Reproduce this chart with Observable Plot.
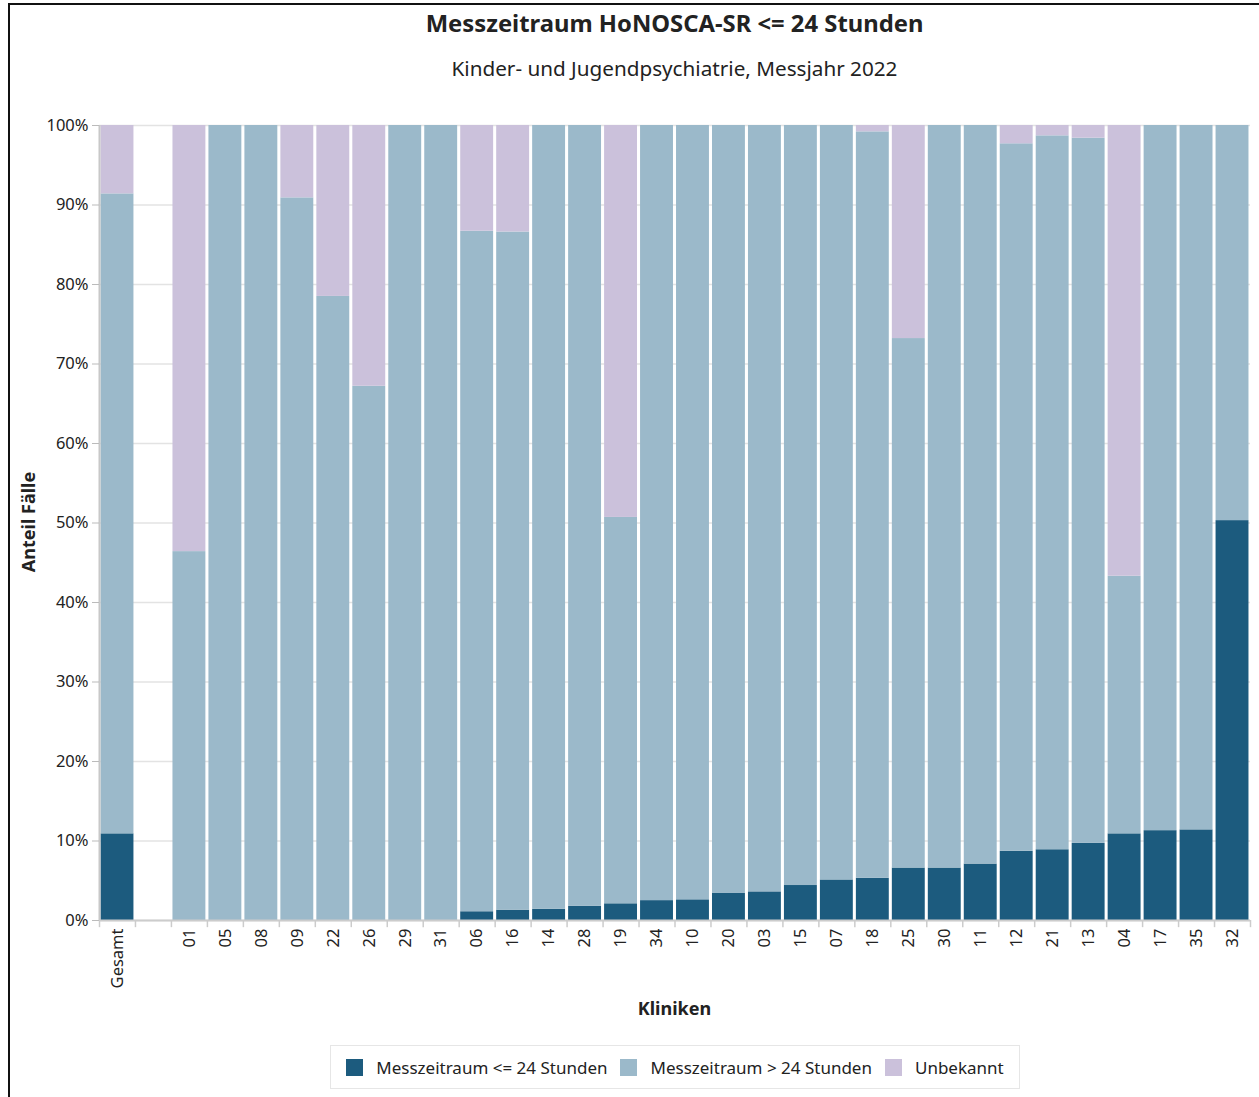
<!DOCTYPE html>
<html>
<head>
<meta charset="utf-8">
<script src="https://cdn.jsdelivr.net/npm/d3@7"></script>
<script src="https://cdn.jsdelivr.net/npm/@observablehq/plot@0.6"></script>
<style>
  html, body { margin: 0; padding: 0; background: #fff; }
  body { width: 1259px; height: 1097px; position: relative; overflow: hidden; font-family: "Noto Sans", "Open Sans", sans-serif; color: #222; }
  #frame { position: absolute; left: 8px; top: 3px; width: 1260px; height: 1100px; border-left: 2px solid #111; border-top: 2px solid #111; box-sizing: border-box; z-index: 5; pointer-events: none; }
  #chart { position: absolute; left: 0; top: 0; }
  .title { position: absolute; left: 99px; width: 1151px; text-align: center; white-space: nowrap; }
  #t1 { top: 7px; font-size: 23.8px; font-weight: bold; }
  #t2 { top: 54px; font-size: 20.7px; }
  #xlab { top: 996px; font-size: 18px; font-weight: bold; }
  #ylab { position: absolute; left: 28px; top: 522px; transform: translate(-50%, -50%) rotate(-90deg); font-size: 18px; font-weight: bold; white-space: nowrap; }
  #legend { position: absolute; left: 330px; top: 1045px; width: 690px; height: 44px; border: 1px solid #e6e6e6; box-sizing: border-box; display: flex; align-items: center; justify-content: center; font-size: 17px; }
  .item { display: flex; align-items: center; margin: 0 6.5px; }
  .sw { width: 17px; height: 17px; margin-right: 13px; }
</style>
</head>
<body>
<div id="chart"></div>
<div class="title" id="t1">Messzeitraum HoNOSCA-SR &lt;= 24 Stunden</div>
<div class="title" id="t2">Kinder- und Jugendpsychiatrie, Messjahr 2022</div>
<div class="title" id="xlab">Kliniken</div>
<div id="ylab">Anteil Fälle</div>
<div id="legend"></div>
<div id="frame"></div>
<script>
const categories = ["Gesamt", " ", "01","05","08","09","22","26","29","31","06","16","14","28","19","34","10","20","03","15","07","18","25","30","11","12","21","13","04","17","35","32"];
const seriesNames = ["Messzeitraum <= 24 Stunden", "Messzeitraum > 24 Stunden", "Unbekannt"];
const seriesColors = ["#1c5b7e", "#9bb9ca", "#cbc1db"];
const le24 = [10.9, 0, 0, 0, 0, 0, 0, 0, 0, 0, 1.1, 1.3, 1.4, 1.8, 2.1, 2.5, 2.6, 3.4, 3.6, 4.4, 5.1, 5.3, 6.6, 6.6, 7.1, 8.7, 8.9, 9.7, 10.9, 11.3, 11.4, 50.3];
const gt24 = [80.5, 0, 46.4, 100, 100, 90.9, 78.5, 67.2, 100, 100, 85.6, 85.3, 98.6, 98.2, 48.6, 97.5, 97.4, 96.6, 96.4, 95.6, 94.9, 93.9, 66.6, 93.4, 92.9, 89.0, 89.8, 88.7, 32.4, 88.7, 88.6, 49.7];
const unknown = [8.6, 0, 53.6, 0, 0, 9.1, 21.5, 32.8, 0, 0, 13.3, 13.4, 0, 0, 49.3, 0, 0, 0, 0, 0, 0, 0.8, 26.8, 0, 0, 2.3, 1.3, 1.6, 56.7, 0, 0, 0];
const yTicks = [0, 10, 20, 30, 40, 50, 60, 70, 80, 90, 100];

const seriesValues = [le24, gt24, unknown];
const data = [];
categories.forEach((c, i) => {
  seriesNames.forEach((s, j) => data.push({klinik: c, serie: s, wert: seriesValues[j][i]}));
});

const W = 1259, H = 1000, mL = 99, mR = 9, mT = 125, mB = 80;
const step = (W - mL - mR) / categories.length;

const chart = Plot.plot({
  width: W, height: H,
  marginLeft: mL, marginRight: mR, marginTop: mT, marginBottom: mB,
  style: {fontFamily: '"Noto Sans", "Open Sans", sans-serif', fontSize: "16px", color: "#222", background: "transparent"},
  x: {domain: categories, paddingInner: 0.085, paddingOuter: 0.0425, axis: null, label: null},
  y: {domain: [0, 100], axis: null, label: null},
  color: {domain: seriesNames, range: seriesColors},
  marks: [
    Plot.ruleY(yTicks, {stroke: "#e3e3e3", strokeWidth: 1.5}),
    Plot.barY(data, {x: "klinik", y: "wert", fill: "serie", order: seriesNames}),
    Plot.ruleY([0], {stroke: "#cccccc", strokeWidth: 2}),
    Plot.ruleX([categories[0]], {dx: -step / 2, stroke: "#c8c8c8", strokeWidth: 2}),
    Plot.ruleX(categories, {x: d => d, dx: -step / 2, y1: 0, y2: -0.9, stroke: "#cccccc", strokeWidth: 1.5}),
    Plot.ruleX([categories[categories.length - 1]], {dx: step / 2, y1: 0, y2: -0.9, stroke: "#cccccc", strokeWidth: 1.5}),
    Plot.axisX({tickSize: 0, tickPadding: 8, tickRotate: -90, fontSize: 16.5, fill: "#222", label: null}),
    Plot.axisY({ticks: yTicks, tickFormat: d => d + "%", tickSize: 7, tickPadding: 4, stroke: "#bbbbbb", fill: "#222", fontSize: 16.5, label: null})
  ]
});
document.getElementById("chart").appendChild(chart);

const legend = document.getElementById("legend");
seriesNames.forEach((s, j) => {
  const it = document.createElement("div");
  it.className = "item";
  const sw = document.createElement("div");
  sw.className = "sw";
  sw.style.background = seriesColors[j];
  const tx = document.createElement("span");
  tx.textContent = s;
  it.appendChild(sw); it.appendChild(tx);
  legend.appendChild(it);
});
</script>
</body>
</html>
